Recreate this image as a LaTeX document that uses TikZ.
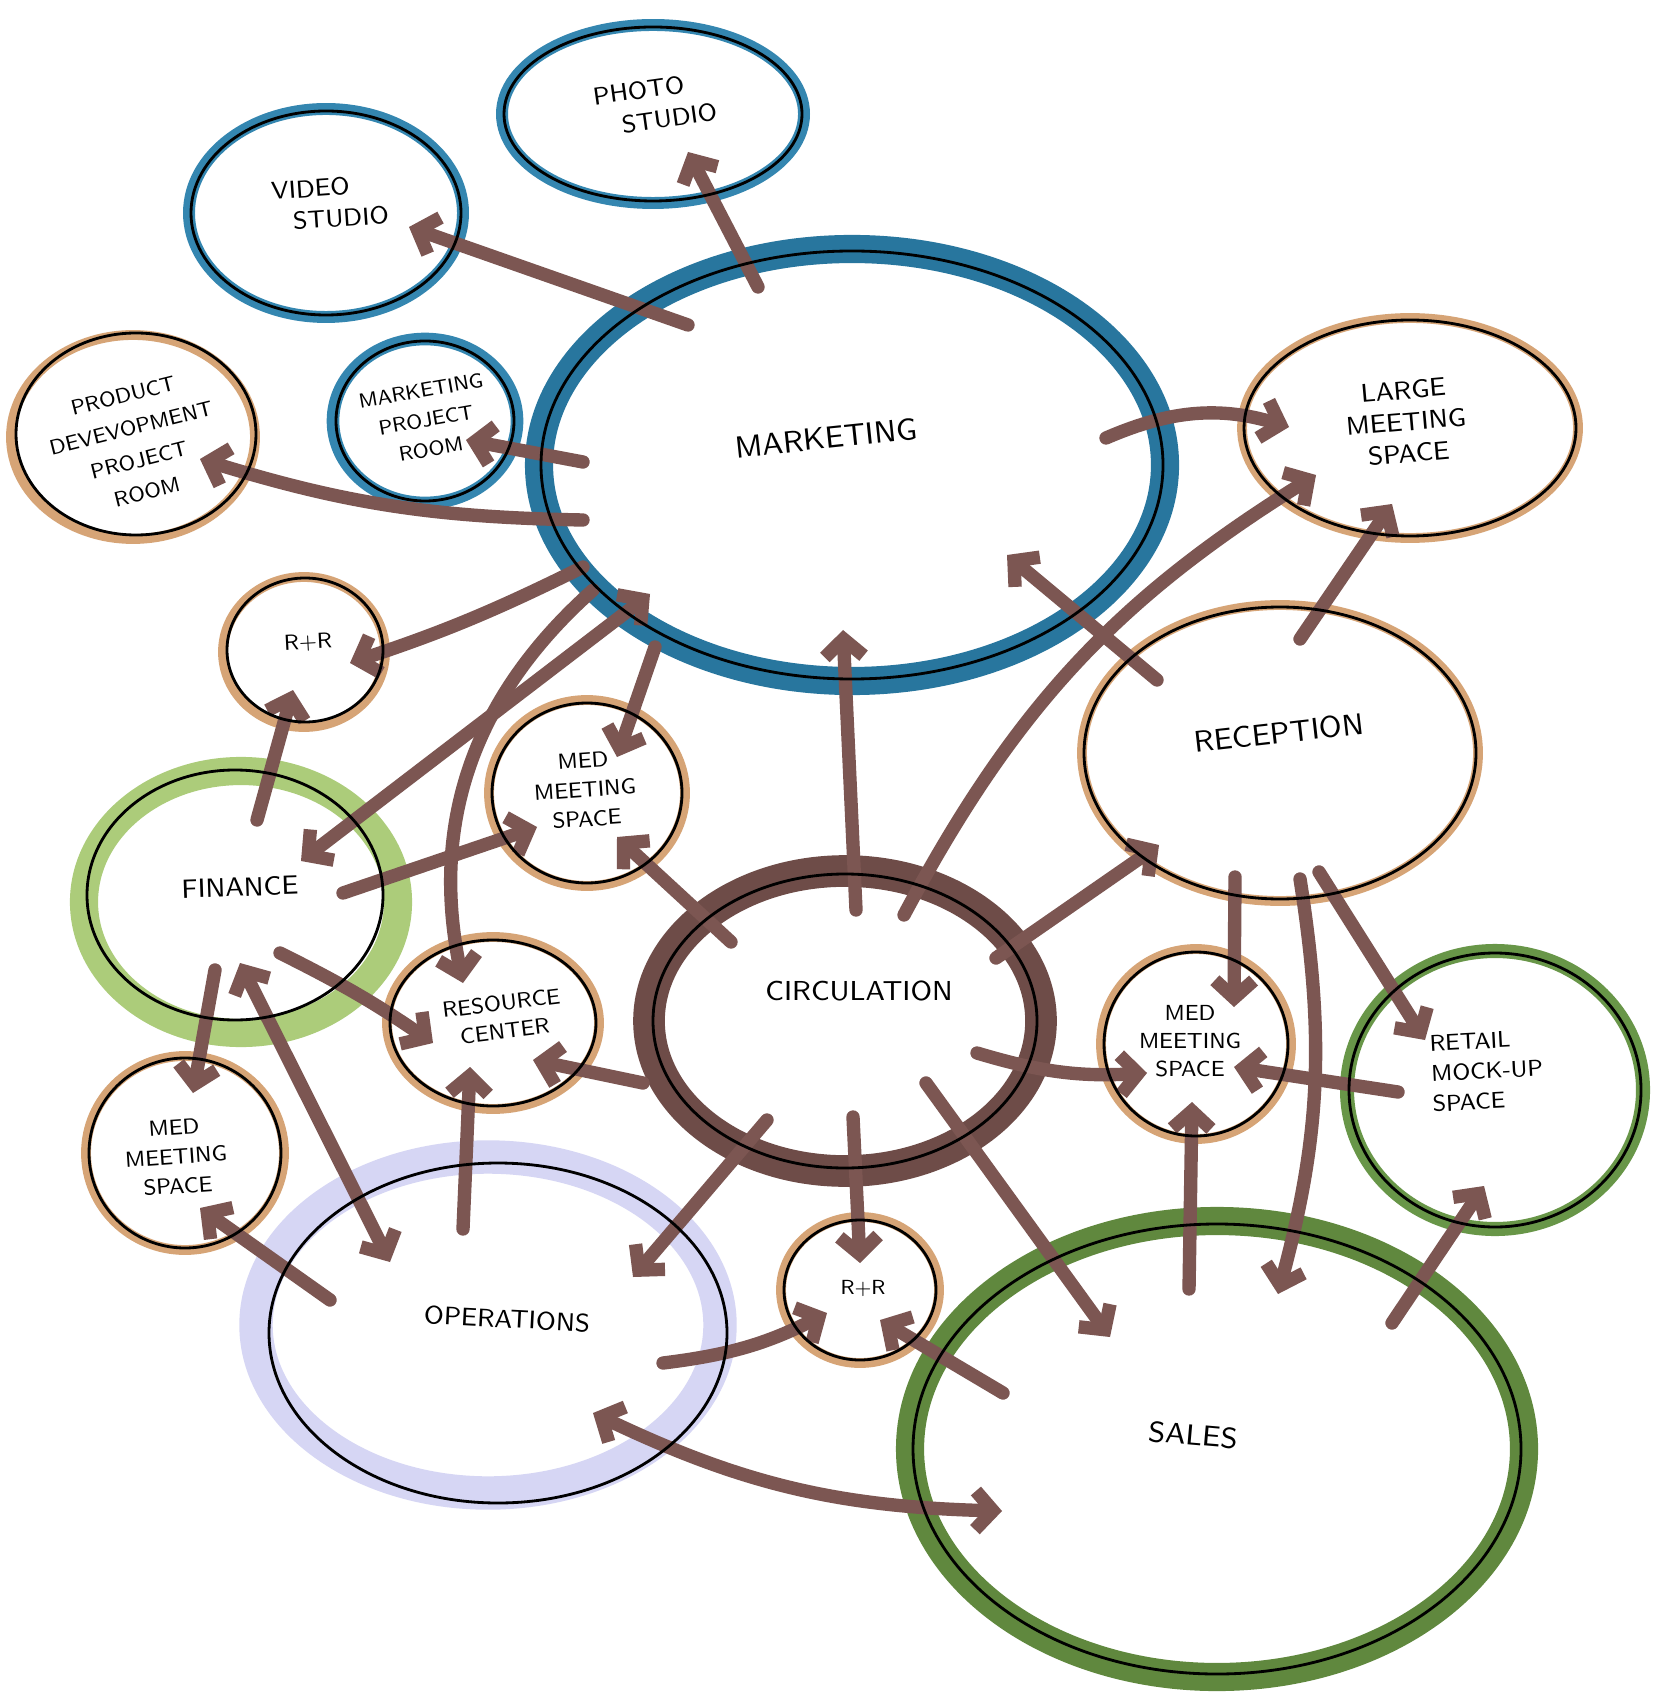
\documentclass[tikz,border=0pt]{standalone}
\usepackage{tikz}
\usetikzlibrary{arrows.meta}

\definecolor{inkbrown}{RGB}{124,86,82}
\definecolor{circbrown}{RGB}{110,76,72}
\definecolor{mktblue}{RGB}{40,118,158}
\definecolor{studioblue}{RGB}{52,134,176}
\definecolor{tanink}{RGB}{214,164,118}
\definecolor{finegreen}{RGB}{172,204,122}
\definecolor{salesgreen}{RGB}{96,136,62}
\definecolor{retailgreen}{RGB}{104,150,72}
\definecolor{opslav}{RGB}{214,214,244}

\begin{document}
\begin{tikzpicture}[x=0.01cm, y=-0.01cm,
    pen/.style={black, line width=0.8pt},
    tanring/.style={tanink, line width=2.8pt},
    link/.style={inkbrown, line width=3.8pt, line cap=round,
        -{Straight Barb[length=5pt,width=11pt]}},
    both/.style={link, {Straight Barb[length=5pt,width=11pt]}-{Straight Barb[length=5pt,width=11pt]}},
    lbl/.style 2 args={font=\sffamily\fontsize{#1}{#2}\selectfont, align=center, inner sep=0pt}]

    % paper
    \path[use as bounding box, fill=white] (0,0) rectangle (1656,1698);

    % centres of the rooms
    \coordinate (photo) at (653,114);
    \coordinate (video) at (326,213);
    \coordinate (pdr) at (136,434);
    \coordinate (mpr) at (425,421);
    \coordinate (mkt) at (852,465);
    \coordinate (large) at (1410,428);
    \coordinate (rr1) at (305,650);
    \coordinate (rec) at (1280,753);
    \coordinate (medm) at (587,793);
    \coordinate (fin) at (235,895);
    \coordinate (circ) at (845,1021);
    \coordinate (res) at (493,1023);
    \coordinate (medr) at (1196,1044);
    \coordinate (retail) at (1495,1090);
    \coordinate (medb) at (185,1153);
    \coordinate (ops) at (498,1333);
    \coordinate (rr2) at (860,1290);
    \coordinate (sales) at (1217,1449);

    % marker rings
    \draw[studioblue, line width=3.4pt] (photo) ellipse [x radius=151, y radius=89];
    \draw[studioblue, line width=3.4pt] (video) ellipse [x radius=137, y radius=104];
    \draw[tanring] ([shift={(-3,3)}]pdr) ellipse [x radius=122, y radius=102];
    \draw[studioblue, line width=3.6pt] (mpr) ellipse [x radius=92, y radius=82];
    \draw[mktblue, line width=8pt] (mkt) ellipse [x radius=313, y radius=216];
    \draw[tanring] (large) ellipse [x radius=168, y radius=110];
    \draw[tanring] ([shift={(-1,2)}]rr1) ellipse [x radius=81, y radius=75];
    \draw[tanring] (rec) ellipse [x radius=198, y radius=148];
    \draw[tanring] (medm) ellipse [x radius=98, y radius=93];
    \draw[finegreen, line width=8pt] ([shift={(6,7)}]fin) ellipse [x radius=157, y radius=131];
    \draw[circbrown, line width=9pt] (circ) ellipse [x radius=196, y radius=150];
    \draw[tanring] (res) ellipse [x radius=106, y radius=86];
    \draw[tanring] (medr) ellipse [x radius=95, y radius=95];
    \draw[retailgreen, line width=4pt] (retail) ellipse [x radius=148, y radius=139];
    \draw[tanring] (medb) ellipse [x radius=99, y radius=97];
    \draw[opslav, line width=9.5pt] ([shift={(-10,-8)}]ops) ellipse [x radius=232, y radius=168];
    \draw[tanring] (rr2) ellipse [x radius=79, y radius=73];
    \draw[salesgreen, line width=8pt] (sales) ellipse [x radius=307, y radius=228];

    % ends of the arrows, (a-b) sits in room a on the way to b
    \coordinate (mkt-photo) at (758,287);     \coordinate (photo-mkt) at (688,152);
    \coordinate (mkt-video) at (688,325);     \coordinate (video-mkt) at (409,227);
    \coordinate (mkt-mpr) at (583,462);       \coordinate (mpr-mkt) at (466,440);
    \coordinate (mkt-pdr) at (583,520);       \coordinate (pdr-mkt) at (200,459);
    \coordinate (mkt-large) at (1106,438);    \coordinate (large-mkt) at (1289,427);
    \coordinate (mkt-medm) at (655,647);      \coordinate (medm-mkt) at (617,757);
    \coordinate (mkt-rr1) at (583,567);       \coordinate (rr1-mkt) at (350,663);
    \coordinate (mkt-fin) at (650,594);       \coordinate (fin-mkt) at (301,861);
    \coordinate (mkt-res) at (593,590);       \coordinate (res-mkt) at (463,983);
    \coordinate (rec-large) at (1300,639);    \coordinate (large-rec) at (1392,504);
    \coordinate (rec-mkt) at (1157,680);      \coordinate (mkt-rec) at (1007,555);
    \coordinate (rec-medr) at (1235,877);     \coordinate (medr-rec) at (1234,1007);
    \coordinate (rec-retail) at (1319,872);   \coordinate (retail-rec) at (1425,1040);
    \coordinate (rec-sales) at (1300,879);    \coordinate (sales-rec) at (1278,1294);
    \coordinate (circ-large) at (904,915);    \coordinate (large-circ) at (1316,475);
    \coordinate (circ-mkt) at (856,910);      \coordinate (mkt-circ) at (843,630);
    \coordinate (circ-medm) at (731,942);     \coordinate (medm-circ) at (617,837);
    \coordinate (circ-res) at (643,1083);     \coordinate (res-circ) at (533,1060);
    \coordinate (circ-rec) at (996,958);      \coordinate (rec-circ) at (1159,845);
    \coordinate (circ-medr) at (977,1053);    \coordinate (medr-circ) at (1147,1073);
    \coordinate (circ-sales) at (926,1083);   \coordinate (sales-circ) at (1110,1337);
    \coordinate (circ-rr2) at (853,1117);     \coordinate (rr2-circ) at (860,1263);
    \coordinate (circ-ops) at (767,1120);     \coordinate (ops-circ) at (633,1277);
    \coordinate (fin-rr1) at (257,820);       \coordinate (rr1-fin) at (293,690);
    \coordinate (fin-medm) at (343,893);      \coordinate (medm-fin) at (537,827);
    \coordinate (fin-res) at (280,953);       \coordinate (res-fin) at (433,1043);
    \coordinate (fin-medb) at (215,970);      \coordinate (medb-fin) at (193,1093);
    \coordinate (fin-ops) at (240,963);       \coordinate (ops-fin) at (390,1262);
    \coordinate (ops-res) at (463,1229);      \coordinate (res-ops) at (470,1067);
    \coordinate (ops-medb) at (330,1300);     \coordinate (medb-ops) at (200,1208);
    \coordinate (ops-rr2) at (663,1363);      \coordinate (rr2-ops) at (827,1313);
    \coordinate (ops-sales) at (593,1413);    \coordinate (sales-ops) at (1002,1511);
    \coordinate (retail-medr) at (1398,1092); \coordinate (medr-retail) at (1234,1067);
    \coordinate (sales-medr) at (1189,1289);  \coordinate (medr-sales) at (1192,1102);
    \coordinate (sales-retail) at (1392,1323);\coordinate (retail-sales) at (1484,1186);
    \coordinate (sales-rr2) at (1003,1393);   \coordinate (rr2-sales) at (880,1320);

    % arrows out of marketing
    \draw[link] (mkt-photo) -- (photo-mkt);
    \draw[link] (mkt-video) -- (video-mkt);
    \draw[link] (mkt-mpr) -- (mpr-mkt);
    \draw[link] (mkt-pdr) to[bend left=8] (pdr-mkt);
    \draw[link] (mkt-large) to[bend left=20] (large-mkt);
    \draw[link] (mkt-medm) -- (medm-mkt);
    \draw[link] (mkt-rr1) to[bend left=4] (rr1-mkt);
    \draw[both] (mkt-fin) -- (fin-mkt);
    \draw[link] (mkt-res) to[bend right=30] (res-mkt);

    % arrows out of reception
    \draw[link] (rec-large) -- (large-rec);
    \draw[link] (rec-mkt) -- (mkt-rec);
    \draw[link] (rec-medr) -- (medr-rec);
    \draw[link] (rec-retail) -- (retail-rec);
    \draw[link] (rec-sales) to[bend left=12] (sales-rec);

    % arrows out of circulation
    \draw[link] (circ-large) to[bend left=15] (large-circ);
    \draw[link] (circ-mkt) -- (mkt-circ);
    \draw[link] (circ-medm) -- (medm-circ);
    \draw[link] (circ-res) -- (res-circ);
    \draw[link] (circ-rec) -- (rec-circ);
    \draw[link] (circ-medr) to[bend right=10] (medr-circ);
    \draw[link] (circ-sales) -- (sales-circ);
    \draw[link] (circ-rr2) -- (rr2-circ);
    \draw[link] (circ-ops) -- (ops-circ);

    % arrows out of finance
    \draw[link] (fin-rr1) -- (rr1-fin);
    \draw[link] (fin-medm) -- (medm-fin);
    \draw[link] (fin-res) to[bend left=4] (res-fin);
    \draw[link] (fin-medb) -- (medb-fin);
    \draw[both] (fin-ops) -- (ops-fin);

    % arrows out of operations, sales, retail
    \draw[link] (ops-res) -- (res-ops);
    \draw[link] (ops-medb) -- (medb-ops);
    \draw[link] (ops-rr2) to[bend right=10] (rr2-ops);
    \draw[both] (ops-sales) to[bend right=12] (sales-ops);
    \draw[link] (retail-medr) -- (medr-retail);
    \draw[link] (sales-medr) -- (medr-sales);
    \draw[link] (sales-retail) -- (retail-sales);
    \draw[link] (sales-rr2) -- (rr2-sales);

    % pen lines round the rooms
    \draw[pen] (photo) ellipse [x radius=149, y radius=87];
    \draw[pen] (video) ellipse [x radius=135, y radius=102];
    \draw[pen] (pdr) ellipse [x radius=120, y radius=101];
    \draw[pen] (mpr) ellipse [x radius=89, y radius=80];
    \draw[pen] (mkt) ellipse [x radius=311, y radius=214];
    \draw[pen] (large) ellipse [x radius=166, y radius=108];
    \draw[pen] (rr1) ellipse [x radius=78, y radius=72];
    \draw[pen] (rec) ellipse [x radius=196, y radius=146];
    \draw[pen] (medm) ellipse [x radius=95, y radius=90];
    \draw[pen] (fin) ellipse [x radius=148, y radius=125];
    \draw[pen] (circ) ellipse [x radius=192, y radius=147];
    \draw[pen] (res) ellipse [x radius=103, y radius=83];
    \draw[pen] (medr) ellipse [x radius=92, y radius=92];
    \draw[pen] (retail) ellipse [x radius=146, y radius=137];
    \draw[pen] (medb) ellipse [x radius=96, y radius=95];
    \draw[pen] (ops) ellipse [x radius=229, y radius=170];
    \draw[pen] (rr2) ellipse [x radius=76, y radius=70];
    \draw[pen] (sales) ellipse [x radius=304, y radius=225];

    % labels of the rooms
    \node[lbl={7}{9}, align=left, rotate=8] (photolbl) at (655,104) {PHOTO\\\hspace*{1em}STUDIO};
    \node[lbl={7}{9}, align=left, rotate=4] (videolbl) at (330,203) {VIDEO\\\hspace*{0.8em}STUDIO};
    \node[lbl={6}{9.4}, rotate=14] (pdrlbl) at (135,444) {PRODUCT\\DEVEVOPMENT\\PROJECT\\ROOM};
    \node[lbl={5.8}{8.4}, rotate=10] (mprlbl) at (426,420) {MARKETING\\PROJECT\\ROOM};
    \node[lbl={8.7}{10}, rotate=6] (mktlbl) at (826,438) {MARKETING};
    \node[lbl={7.3}{9}, rotate=5] (largelbl) at (1406,422) {LARGE\\MEETING\\SPACE};
    \node[lbl={6.2}{8}, rotate=3] (rr1lbl) at (308,643) {R+R};
    \node[lbl={8.5}{10}, rotate=6.5] (reclbl) at (1279,733) {RECEPTION};
    \node[lbl={6.2}{8.3}, rotate=4] (medmlbl) at (585,790) {MED\\MEETING\\SPACE};
    \node[lbl={7.5}{9}, rotate=2] (finlbl) at (240,887) {FINANCE};
    \node[lbl={7.8}{9}] (circlbl) at (859,991) {CIRCULATION};
    \node[lbl={6.2}{8}, rotate=7] (reslbl) at (503,1017) {RESOURCE\\CENTER};
    \node[lbl={6.2}{8}] (medrlbl) at (1190,1041) {MED\\MEETING\\SPACE};
    \node[lbl={6.5}{8.6}, align=left, rotate=3] (retaillbl) at (1487,1071) {RETAIL\\MOCK-UP\\SPACE};
    \node[lbl={6.2}{8.3}, rotate=4] (medblbl) at (176,1157) {MED\\MEETING\\SPACE};
    \node[lbl={7.2}{9}, rotate=-3] (opslbl) at (507,1319) {OPERATIONS};
    \node[lbl={5.8}{7}] (rr2lbl) at (863,1288) {R+R};
    \node[lbl={8.2}{9}, rotate=-5] (saleslbl) at (1193,1435) {SALES};
\end{tikzpicture}
\end{document}
